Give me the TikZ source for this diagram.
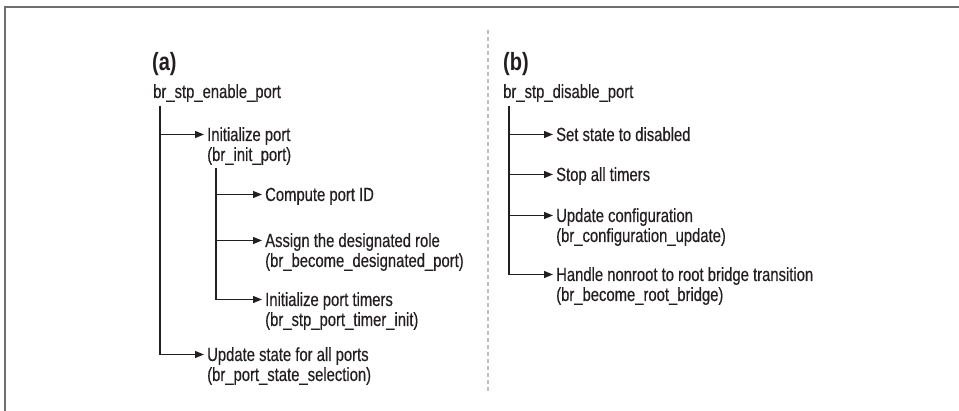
\documentclass[tikz,border=0pt]{standalone}
\usepackage{fontspec}
\setmainfont{Liberation Sans}[FakeStretch=0.78,FakeBold=0.4]
\newfontfamily\headfont{Liberation Sans}[FakeStretch=0.8]
\usetikzlibrary{arrows.meta}
\definecolor{ink}{HTML}{231F20}
\definecolor{framec}{HTML}{6D6E71}
\definecolor{dashc}{HTML}{BCBEC0}
\begin{document}
\begin{tikzpicture}[x=1pt,y=-1pt,
  every node/.style={font=\fontsize{19}{20}\selectfont, text=ink},
  lbl/.style={anchor=base west, inner xsep=3pt, inner ysep=0pt, text height=13pt, text depth=0pt},
  sub/.style={anchor=base west, inner xsep=3pt, inner ysep=0pt},
  hd/.style={anchor=base west, inner sep=0pt, font=\headfont\fontsize{25}{26}\bfseries\selectfont},
  rootlbl/.style={anchor=base west, inner sep=0pt},
  conn/.style={draw=ink, line width=1.2pt},
  arr/.style={conn, -{Triangle[length=9pt,width=7pt]}},
]
\useasboundingbox (0,0) rectangle (959,411);
% frame
\draw[framec, line width=1.5pt] (5,411) -- (5,7) -- (959,7);
% divider
\draw[dashc, line width=2pt, dash pattern=on 4pt off 3pt] (488,30) -- (488,393);

% (a)
\node[hd] (ha) at (152,71) {(a)};
\node[rootlbl] (ra) at (153,98) {br\_stp\_enable\_port};
\coordinate (ta) at (160,106);
\node[lbl] (a1) at (204,141) {Initialize port};
\node[sub] (a1b) at (204,161) {(br\_init\_port)};
\coordinate (tb) at (216,168);
\node[lbl] (a2) at (262,201) {Compute port ID};
\node[lbl] (a3) at (262,247) {Assign the designated role};
\node[sub] (a3b) at (262,267) {(br\_become\_designated\_port)};
\node[lbl] (a4) at (262,306) {Initialize port timers};
\node[sub] (a4b) at (262,326) {(br\_stp\_port\_timer\_init)};
\node[lbl] (a5) at (204,361) {Update state for all ports};
\node[sub] (a5b) at (204,381) {(br\_port\_state\_selection)};

\draw[arr] (ta |- a1.west) -- (a1.west);
\draw[arr] (ta) |- (a5.west);
\draw[arr] (tb |- a2.west) -- (a2.west);
\draw[arr] (tb |- a3.west) -- (a3.west);
\draw[arr] (tb) |- (a4.west);

% (b)
\node[hd] (hb) at (503,71) {(b)};
\node[rootlbl] (rb) at (503,98) {br\_stp\_disable\_port};
\coordinate (tc) at (509,106);
\node[lbl] (b1) at (553,141) {Set state to disabled};
\node[lbl] (b2) at (553,181) {Stop all timers};
\node[lbl] (b3) at (553,222) {Update configuration};
\node[sub] (b3b) at (553,242) {(br\_configuration\_update)};
\node[lbl] (b4) at (553,281) {Handle nonroot to root bridge transition};
\node[sub] (b4b) at (553,301) {(br\_become\_root\_bridge)};

\draw[arr] (tc |- b1.west) -- (b1.west);
\draw[arr] (tc |- b2.west) -- (b2.west);
\draw[arr] (tc |- b3.west) -- (b3.west);
\draw[arr] (tc) |- (b4.west);
\end{tikzpicture}
\end{document}
